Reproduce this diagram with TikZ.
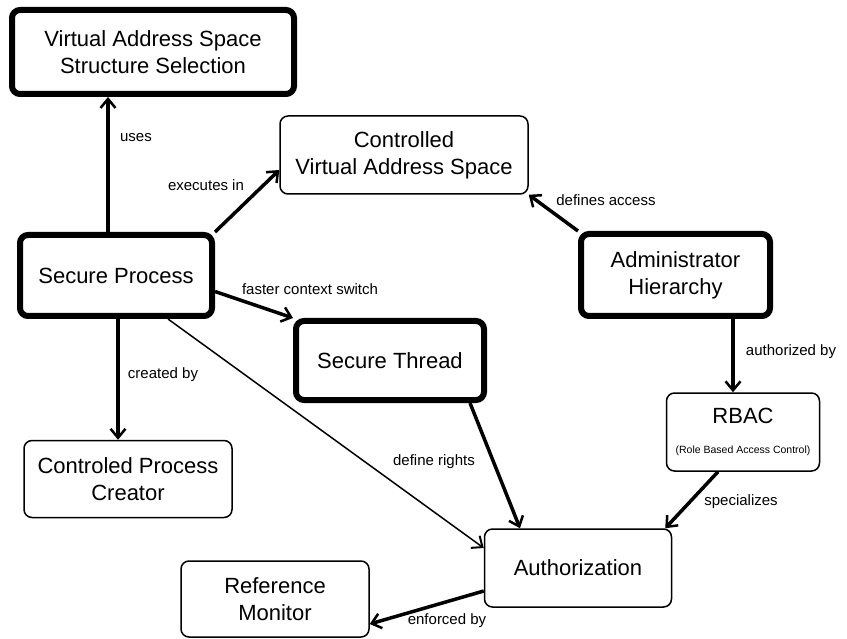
\documentclass[tikz,border=0pt]{standalone}
\usepackage{fontspec}
\setmainfont{Liberation Sans}
\usetikzlibrary{arrows.meta, positioning}

\begin{document}
\begin{tikzpicture}[x=1pt, y=-1pt,
				concept_strong/.style = {draw, rectangle, rounded corners=8pt, line width=6pt,
					align=center, inner sep=0pt, fill=white, font=\fontsize{22}{27}\selectfont},
				concept_plain/.style  = {draw, rectangle, rounded corners=8pt, line width=1.5pt,
					align=center, inner sep=0pt, fill=white, font=\fontsize{22}{27}\selectfont},
				rel_label/.style      = {inner sep=1pt, font=\fontsize{15}{17}\selectfont},
				link_strong/.style    = {-{Straight Barb[length=9pt, width=15pt, line width=2.5pt]},
					line width=3.5pt},
				link_plain/.style     = {-{Straight Barb[length=9pt, width=15pt, line width=2pt]},
					line width=1.5pt}
				]
				\useasboundingbox (0,0) rectangle (847,639);
				
				\node[concept_strong, minimum width=282pt, minimum height=84pt] (vass) at (153, 52)
				{Virtual Address Space\\Structure Selection};
				\node[concept_plain, minimum width=248pt, minimum height=78pt] (cvas) at (404, 155)
				{Controlled\\Virtual Address Space};
				\node[concept_strong, minimum width=192pt, minimum height=81pt] (proc) at (116, 275.5)
				{Secure Process};
				\node[concept_strong, minimum width=189pt, minimum height=82pt] (admin) at (675.5, 275)
				{Administrator\\Hierarchy};
				\node[concept_strong, minimum width=188pt, minimum height=79pt] (thread) at (390, 360.5)
				{Secure Thread};
				\node[concept_plain, minimum width=153pt, minimum height=78pt] (rbac) at (743, 432)
				{RBAC\\[3pt]{\fontsize{10.5}{12}\selectfont (Role Based Access Control)}};
				\node[concept_plain, minimum width=208pt, minimum height=77pt] (creator) at (128, 479)
				{Controled Process\\Creator};
				\node[concept_plain, minimum width=187pt, minimum height=78pt] (authz) at (578, 568)
				{Authorization};
				\node[concept_plain, minimum width=188pt, minimum height=76pt] (refmon) at (275, 599)
				{Reference\\Monitor};
				
				% relations of the secure process
				\draw[link_strong] ([xshift=-8pt]proc.north) -- ([xshift=-45pt]vass.south);
				\node[rel_label] (l_uses) at (136, 138) {uses};
				\draw[link_strong] (proc.north east) -- ([yshift=-15pt]cvas.west);
				\node[rel_label] (l_exec) at (206, 185) {executes in};
				\draw[link_strong] ([yshift=-16pt]proc.east) -- (thread.north west);
				\node[rel_label] (l_switch) at (310, 289) {faster context switch};
				\draw[link_strong] ([xshift=2pt]proc.south) -- ([xshift=-10pt]creator.north);
				\node[rel_label] (l_created) at (163, 375) {created by};
				\draw[link_plain] ([xshift=52pt]proc.south) -- ([yshift=20pt]authz.west);
				\node[rel_label] (l_rights) at (434, 462) {define rights};
				\draw[link_strong] ([xshift=80pt]thread.south) -- ([xshift=-58pt]authz.north);
				
				% administration side
				\draw[link_strong] (admin.north west) -- (cvas.south east);
				\node[rel_label] (l_access) at (606, 200) {defines access};
				\draw[link_strong] ([xshift=57.5pt]admin.south) -- ([xshift=-10pt]rbac.north);
				\node[rel_label] (l_authby) at (791, 352) {authorized by};
				\draw[link_strong] ([xshift=-25pt]rbac.south) -- ([xshift=-7pt]authz.north east);
				\node[rel_label] (l_special) at (741, 502) {specializes};
				\draw[link_strong] ([yshift=-23pt]authz.west) -- ([yshift=-25pt]refmon.east);
				\node[rel_label] (l_enforced) at (447, 621) {enforced by};
			\end{tikzpicture}
\end{document}
